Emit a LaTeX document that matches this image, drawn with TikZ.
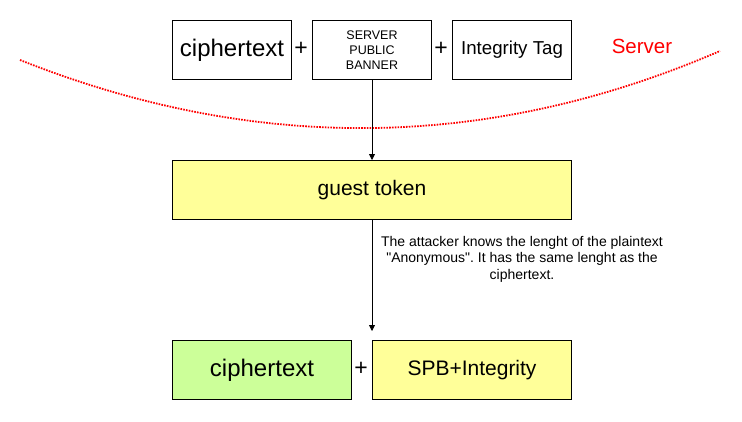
\documentclass[tikz,border=0pt]{standalone}
\usepackage{fontspec}
\setmainfont{Liberation Sans}[Ligatures=TeXOff]
\usetikzlibrary{arrows.meta}
\frenchspacing
\definecolor{lightyellow}{HTML}{FFFF99}
\definecolor{lightgreen}{HTML}{CCFF99}
\definecolor{srvred}{HTML}{FF0000}
\begin{document}
\begin{tikzpicture}[x=1pt,y=-1pt,
  box/.style={draw=black,line width=1pt,minimum height=59pt,inner sep=0pt,anchor=north west},
  plus/.style={font=\fontsize{23}{23}\selectfont,inner sep=0pt},
  arr/.style={draw=black,line width=0.8pt,-{Triangle[length=6pt,width=6pt]}}]
\useasboundingbox (0,0) rectangle (742,421);
\node[box,minimum width=119pt,font=\fontsize{24}{24}\selectfont] (c1) at (172,20) {ciphertext};
\node[box,minimum width=119pt,font=\fontsize{12.5}{15}\selectfont,align=center] (spb) at (312,20) {SERVER\\PUBLIC\\BANNER};
\node[box,minimum width=119pt,font=\fontsize{18.7}{18.7}\selectfont] (tag) at (452,20) {Integrity Tag};
\node[plus] (p1) at (301,49) {+};
\node[plus] (p2) at (441,49) {+};
\node[text=srvred,font=\fontsize{20.5}{20.5}\selectfont] (srv) at (642,46) {Server};
\draw[srvred,line width=1.8pt,dash pattern=on 1.6pt off 1.2pt] (20,60) .. controls (256,153.7) and (489.3,150.7) .. (720,51);
\node[box,fill=lightyellow,minimum width=399pt,font=\fontsize{21}{21}\selectfont] (gt) at (172,160) {guest token};
\draw[arr] (spb.south) -- (gt.north);
\coordinate (end) at (372,331);
\draw[arr] (gt.south) -- (end);
\node[font=\fontsize{14}{16.5}\selectfont,align=center] (note) at (522,259) {The attacker knows the lenght of the plaintext\\"Anonymous". It has the same lenght as the\\ciphertext.};
\node[box,fill=lightgreen,minimum width=179pt,font=\fontsize{24}{24}\selectfont] (c2) at (172,340) {ciphertext};
\node[box,fill=lightyellow,minimum width=199pt,font=\fontsize{21}{21}\selectfont] (spbi) at (372,340) {SPB+Integrity};
\node[plus] (p3) at (361,369) {+};
\end{tikzpicture}
\end{document}
